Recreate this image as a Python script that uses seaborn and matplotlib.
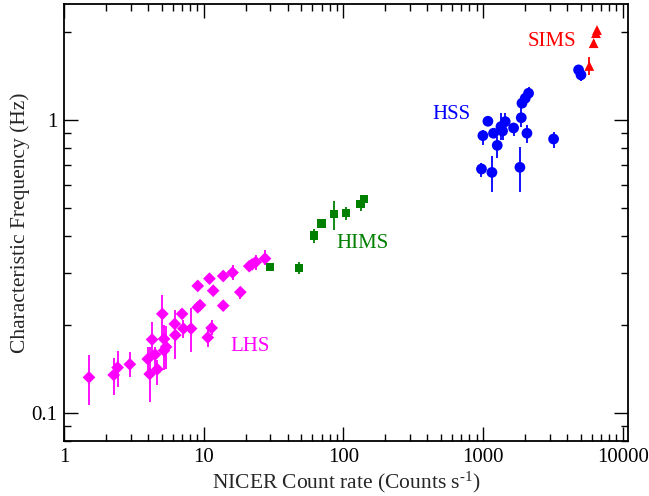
import numpy as np
import pandas as pd
import matplotlib
matplotlib.use("Agg")
import matplotlib.pyplot as plt
import seaborn as sns
from matplotlib.ticker import LogLocator, NullFormatter, FixedLocator, FixedFormatter

# ---- data: count rate, characteristic frequency, error bounds ----
lhs_rate = [1.51, 2.27, 2.42, 2.96, 3.98, 4.11, 4.27, 4.49, 4.66, 5.06, 5.2, 5.2, 5.38,
            6.21, 6.27, 7.0, 7.16, 8.13, 9.07, 9.07, 9.42, 10.7, 11.0, 11.4, 11.7,
            13.8, 13.8, 16.1, 18.3, 21.2, 22.2, 23.6, 27.5]
lhs_freq = [0.132, 0.1345, 0.1426, 0.1463, 0.1525, 0.1355, 0.1777, 0.158, 0.1407, 0.2175,
            0.1786, 0.163, 0.1677, 0.201, 0.184, 0.2175, 0.1937, 0.1937, 0.271, 0.229,
            0.233, 0.1806, 0.287, 0.1947, 0.261, 0.293, 0.232, 0.301, 0.258, 0.3165,
            0.321, 0.327, 0.336]
lhs_lo = [0.106, 0.1146, 0.1224, 0.1324, 0.1377, 0.1087, 0.157, 0.143, 0.124, 0.1815,
          0.1396, 0.155, 0.141, 0.1815, 0.153, 0.21, 0.18, 0.161, 0.262, 0.221,
          0.225, 0.168, 0.278, 0.184, 0.252, 0.283, 0.224, 0.284, 0.245, 0.306,
          0.31, 0.307, 0.319]
lhs_hi = [0.157, 0.154, 0.163, 0.161, 0.1677, 0.1677, 0.204, 0.1677, 0.151, 0.252,
          0.199, 0.171, 0.197, 0.224, 0.207, 0.226, 0.207, 0.227, 0.28, 0.237,
          0.241, 0.191, 0.296, 0.207, 0.27, 0.303, 0.24, 0.319, 0.269, 0.327,
          0.332, 0.345, 0.359]

hims_rate = [29.8, 48.0, 61.5, 69.7, 85.9, 104, 133, 141]
hims_freq = [0.314, 0.3125, 0.403, 0.443, 0.476, 0.482, 0.515, 0.537]
hims_lo = [0.306, 0.297, 0.380, 0.432, 0.421, 0.457, 0.490, 0.525]
hims_hi = [0.322, 0.328, 0.423, 0.455, 0.530, 0.505, 0.532, 0.549]

hss_rate = [998, 1084, 975, 1158, 1189, 1264, 1344, 1380, 1442, 1655, 1878, 1837,
            2062, 1900, 2005, 2118, 3200, 4831, 5025]
hss_freq = [0.884, 0.99, 0.680, 0.662, 0.901, 0.819, 0.949, 0.917, 0.987, 0.939, 1.018,
            0.689, 0.901, 1.141, 1.186, 1.234, 0.861, 1.483, 1.426]
hss_lo = [0.821, 0.96, 0.640, 0.569, 0.87, 0.740, 0.854, 0.854, 0.937, 0.882, 0.949,
          0.569, 0.833, 1.11, 1.15, 1.2, 0.804, 1.44, 1.36]
hss_hi = [0.924, 1.02, 0.711, 0.753, 0.93, 0.877, 1.054, 1.0, 1.054, 0.974, 1.105,
          0.810, 0.961, 1.17, 1.22, 1.3, 0.912, 1.53, 1.47]

sims_rate = [5765, 6193, 6437, 6546]
sims_freq = [1.53, 1.83, 1.98, 2.03]
sims_lo = [1.426, 1.78, 1.93, 1.98]
sims_hi = [1.646, 1.88, 2.03, 2.08]

states = ["LHS", "HIMS", "HSS", "SIMS"]
colors = {"LHS": "#ff00ff", "HIMS": "#008000", "HSS": "#0000ff", "SIMS": "#ff0000"}
markers = {"LHS": "D", "HIMS": "s", "HSS": "o", "SIMS": "^"}
sizes = {"LHS": 42, "HIMS": 36, "HSS": 60, "SIMS": 50}
label_pos = {"LHS": (21.5, 0.168), "HIMS": (138, 0.377), "HSS": (590, 1.048), "SIMS": (3100, 1.85)}

frames = []
for name, r, f, lo, hi in [("LHS", lhs_rate, lhs_freq, lhs_lo, lhs_hi),
                           ("HIMS", hims_rate, hims_freq, hims_lo, hims_hi),
                           ("HSS", hss_rate, hss_freq, hss_lo, hss_hi),
                           ("SIMS", sims_rate, sims_freq, sims_lo, sims_hi)]:
    frames.append(pd.DataFrame({"rate": r, "freq": f, "lo": lo, "hi": hi, "state": name}))
df = pd.concat(frames, ignore_index=True)

sns.set_theme(style="ticks")
plt.rcParams["font.family"] = ["Liberation Serif", "DejaVu Serif"]
plt.rcParams["mathtext.fontset"] = "custom"
plt.rcParams["mathtext.rm"] = "Liberation Serif"
plt.rcParams["mathtext.it"] = "Liberation Serif:italic"

fig = plt.figure(figsize=(6.49, 4.96), dpi=100)
ax = fig.add_axes([0.0986, 0.1109, 0.8686, 0.882])

for name in states:
    d = df[df.state == name]
    ax.errorbar(d.rate, d.freq, yerr=[d.freq - d.lo, d.hi - d.freq], fmt="none",
                ecolor=colors[name], elinewidth=1.3, capsize=0, zorder=2)

sns.scatterplot(data=df, x="rate", y="freq", hue="state", style="state",
                palette=colors, markers=markers, size="state", sizes=sizes,
                edgecolor="none", linewidth=0, legend=False, ax=ax, zorder=3)

for name in states:
    ax.text(*label_pos[name], name, color=colors[name], fontsize=15,
            ha="center", va="center")

ax.set_xscale("log")
ax.set_yscale("log")
ax.set_xlim(1, 10860)
ax.set_ylim(0.08, 2.5)

ax.xaxis.set_major_locator(FixedLocator([1, 10, 100, 1000, 10000]))
ax.xaxis.set_major_formatter(FixedFormatter(["1", "10", "100", "1000", "10000"]))
ax.xaxis.set_minor_locator(LogLocator(base=10, subs=np.arange(2, 10), numticks=20))
ax.xaxis.set_minor_formatter(NullFormatter())
ax.yaxis.set_major_locator(FixedLocator([0.1, 1]))
ax.yaxis.set_major_formatter(FixedFormatter(["0.1", "1"]))
ax.yaxis.set_minor_locator(LogLocator(base=10, subs=np.arange(2, 10), numticks=20))
ax.yaxis.set_minor_formatter(NullFormatter())

ax.tick_params(which="both", direction="in", top=True, right=True, colors="black",
               labelsize=15, width=1.0)
ax.tick_params(which="major", length=10, pad=5)
ax.tick_params(which="minor", length=5)
for s in ax.spines.values():
    s.set_linewidth(1.3)
    s.set_color("black")

ax.set_xlabel(r"NICER Count rate (Counts s$^{\text{-1}}$)", fontsize=15.5, labelpad=2)
ax.set_ylabel("Characteristic Frequency (Hz)", fontsize=15.5, labelpad=1)

fig.savefig("out.png", dpi=100)
